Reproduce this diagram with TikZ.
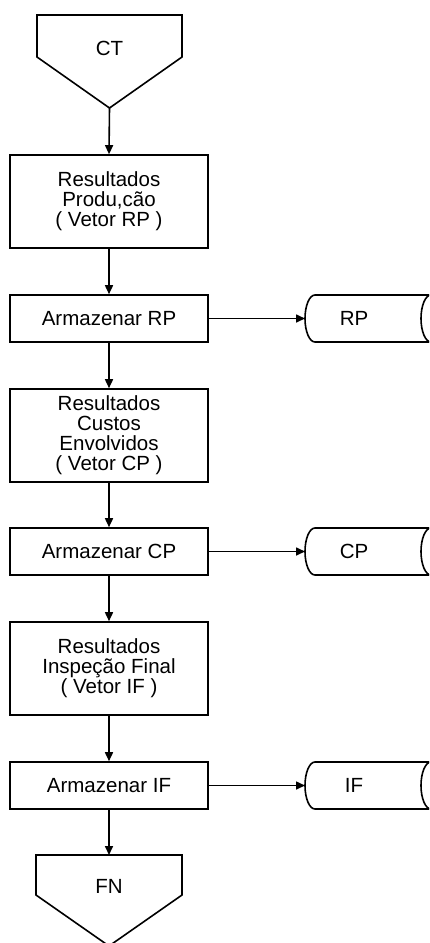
\documentclass[tikz,border=0pt]{standalone}
\usepackage{fontspec}
\setmainfont{Liberation Sans}
\usetikzlibrary{arrows.meta,calc}

\tikzset{
  flow/.style={line width=1.6pt, draw=black},
  procbox/.style={flow, rectangle, minimum width=198pt, inner sep=0pt, align=center},
  tall/.style={procbox, minimum height=93pt},
  short/.style={procbox, minimum height=47pt},
  txt/.style={inner sep=0pt, align=center},
  link/.style={flow, -{Triangle[length=9pt,width=8pt]}},
}

\begin{document}
\begin{tikzpicture}[x=1pt, y=-1pt, font=\fontsize{20.5}{20}\selectfont]
  \useasboundingbox (0,0) rectangle (429,943);
  \clip (0,0) rectangle (429,943);

  % start connector (off-page)
  \node[txt] (ct) at (109.5,48) {CT};
  \coordinate (cttip) at (109.5,108);
  \draw[flow, line join=miter] (37,15) -- (182,15) -- (182,57) -- (cttip) -- (37,57) -- cycle;

  % process boxes
  \node[tall]  (b1) at (109,201.5) {Resultados\\Produ,cão\\( Vetor RP )};
  \node[short] (b2) at (109,318.5) {Armazenar RP};
  \node[tall]  (b3) at (109,435.5) {Resultados\\Custos\\Envolvidos\\( Vetor CP )};
  \node[short] (b4) at (109,551.5) {Armazenar CP};
  \node[tall]  (b5) at (109,668.5) {Resultados\\Inspeção Final\\( Vetor IF )};
  \node[short] (b6) at (109,785.5) {Armazenar IF};

  % end connector (off-page)
  \coordinate (fntop) at (109,855);
  \node[txt] (fn) at (109,886) {FN};
  \draw[flow, line join=miter] (36,855) -- (182,855) -- (182,895) -- (109,946) -- (36,895) -- cycle;

  % stored data (drum) symbols, running off the right edge
  \node[txt] (rp) at (354,318.5) {RP};
  \node[txt] (cp) at (354,551.5) {CP};
  \node[txt] (if) at (354,785.5) {IF};
  \coordinate (rpin) at (305,318.5);
  \coordinate (cpin) at (305,551.5);
  \coordinate (ifin) at (305,785.5);
  \foreach \yc in {318.5, 551.5, 785.5}{
    \draw[flow] (440,\yc-23.5) -- (315,\yc-23.5)
      arc[start angle=90, end angle=270, x radius=10pt, y radius=23.5pt]
      -- (440,\yc+23.5);
    \draw[flow] (431,\yc-23.5)
      arc[start angle=90, end angle=270, x radius=10pt, y radius=23.5pt];
  }

  % vertical flow
  \draw[link] (cttip) -- (b1.north);
  \draw[link] (b1.south) -- (b2.north);
  \draw[link] (b2.south) -- (b3.north);
  \draw[link] (b3.south) -- (b4.north);
  \draw[link] (b4.south) -- (b5.north);
  \draw[link] (b5.south) -- (b6.north);
  \draw[link] (b6.south) -- (fntop);

  % storage links
  \draw[link] (b2.east) -- (rpin);
  \draw[link] (b4.east) -- (cpin);
  \draw[link] (b6.east) -- (ifin);
\end{tikzpicture}
\end{document}
